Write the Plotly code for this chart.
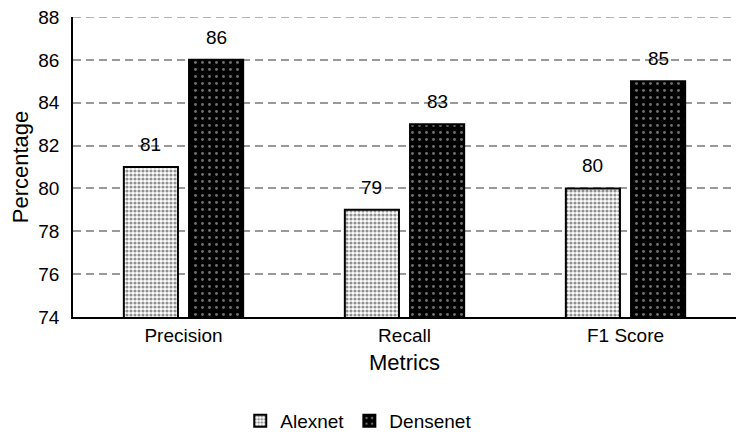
import plotly.graph_objects as go

metrics = ["Precision", "Recall", "F1 Score"]
alexnet = [81, 79, 80]
densenet = [86, 83, 85]
y_ticks = [74, 76, 78, 80, 82, 84, 86, 88]

font = "Liberation Sans, Arial, sans-serif"
BARGAP, GROUPGAP = 0.41, 0.17
PLOT_W = 742 - 65 - 14

fig = go.Figure()
fig.add_trace(go.Bar(
    name="Alexnet", x=metrics, y=alexnet,
    marker=dict(color="white", line=dict(color="black", width=2),
                pattern=dict(shape=".", fgcolor="#222222", bgcolor="white", size=4, solidity=0.5)),
))
fig.add_trace(go.Bar(
    name="Densenet", x=metrics, y=densenet,
    marker=dict(color="black", line=dict(color="black", width=2),
                pattern=dict(shape=".", fgcolor="#e0e0e0", bgcolor="black", size=7, solidity=0.13)),
))

# value labels above bars
slot = PLOT_W / len(metrics) * (1 - BARGAP) / 2
for series, sign in ((alexnet, -1), (densenet, 1)):
    for m, v in zip(metrics, series):
        fig.add_annotation(x=m, y=v, text=str(v), showarrow=False, xref="x", yref="y",
                           xshift=sign * slot / 2, yanchor="bottom", yshift=10,
                           font=dict(size=19, color="#000000", family=font))

# dashed gridline at the top value (plotly omits gridlines on the plot edge)
fig.add_shape(type="line", xref="paper", yref="y", x0=0, x1=1, y0=y_ticks[-1], y1=y_ticks[-1],
              line=dict(color="#999999", width=1.5, dash="8px,5px"), layer="below")

fig.update_layout(
    width=742, height=432,
    margin=dict(l=65, r=14, t=9, b=123),
    paper_bgcolor="white", plot_bgcolor="white",
    barmode="group", bargap=BARGAP, bargroupgap=GROUPGAP,
    font=dict(family=font, color="#000000", size=18),
    showlegend=True,
    legend=dict(orientation="h", x=0.431, xanchor="center", yref="container", y=-0.035,
                yanchor="bottom", font=dict(size=19), traceorder="normal", itemwidth=30),
    xaxis=dict(title=dict(text="Metrics", font=dict(size=22), standoff=10),
               showline=True, linecolor="black", linewidth=1.5, ticks="",
               tickfont=dict(size=19), automargin=False),
    yaxis=dict(title=dict(text="Percentage", font=dict(size=22), standoff=6),
               range=[74, 88], tickvals=y_ticks,
               showline=True, linecolor="black", linewidth=1.5,
               showgrid=True, gridcolor="#999999", griddash="8px,5px", gridwidth=1.5,
               tickfont=dict(size=19), ticklabelstandoff=8, ticklabeloverflow="allow",
               zeroline=False, automargin=False),
)

fig.write_html("out.html")
